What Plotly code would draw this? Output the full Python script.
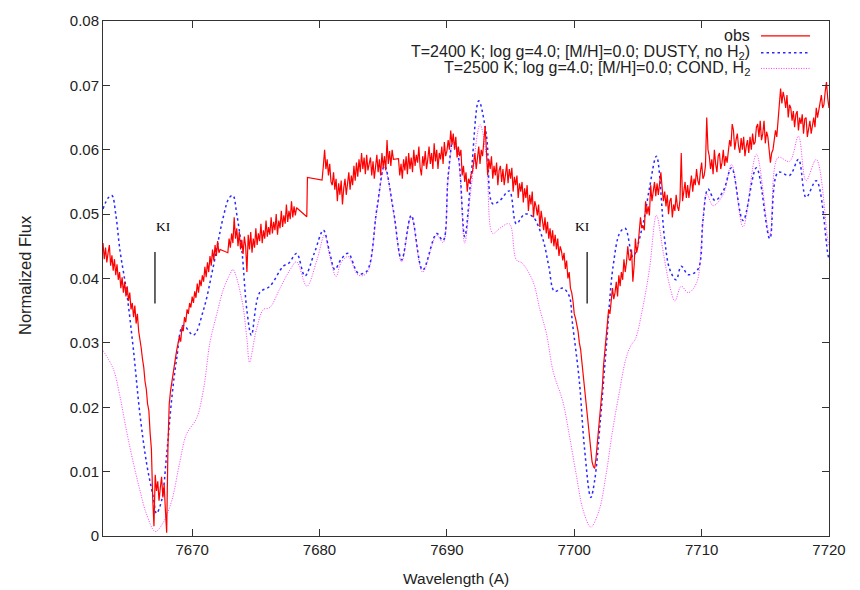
import plotly.graph_objects as go

# ---------------- data ----------------
# observed spectrum: flux in units of 1e-4, on a 0.1 A grid, in segments
# (the gaps between segments are bridged by straight lines, as in the original)
obs_step = 0.1
obs_seg1_start = 7663.0
obs_seg1 = [455, 430, 448, 425, 440, 452, 420, 436, 412, 430,
            405, 422, 398, 410, 385, 402, 378, 395, 372, 388,
            365, 378, 352, 362, 340, 358, 330, 345, 318, 300,
            292, 275, 262, 240, 228, 205, 195, 160, 135, 60,
            15, 95, 70, 85, 55, 75, 92, 60, 80, 40,
            5, 140, 205, 225, 240, 250, 262, 278, 290, 300,
            310, 302, 325, 318, 340, 332, 352, 345, 362, 355,
            372, 362, 380, 370, 392, 378, 398, 388, 405, 395,
            418, 402, 425, 410, 435, 420, 445, 428, 452, 435,
            458, 440, 445]
obs_seg2_start = 7672.8
obs_seg2 = [440, 462,
            448, 470, 455, 495, 462, 478, 450, 472, 445, 460,
            438, 465, 450, 410, 468, 445, 472, 440, 462, 448,
            478, 452, 470, 458, 485, 455, 475, 462, 490, 465,
            480, 468, 495, 470, 488, 475, 500, 468, 490, 478,
            505, 480, 498, 485, 515, 488, 505, 492, 520, 495,
            512, 498, 510]
obs_seg3_wl = [7679.0, 7679.05]
obs_seg3 = [496, 557]
obs_seg4_start = 7680.2
obs_seg4 = [553, 575, 600, 570, 585, 560, 578, 550,
            545, 565, 538, 555, 520, 548, 530, 552, 515, 540,
            555, 530, 548, 565, 538, 560, 545, 575, 552, 580,
            558, 585, 565, 595, 570, 588, 562, 592, 568, 580,
            588, 560, 582, 555, 578, 592, 565, 585, 560, 595,
            572, 590, 568, 615, 578, 598, 575, 600, 585]
obs_seg5_start = 7686.2
obs_seg5 = [586, 560, 578, 555, 585, 568, 590, 562,
            595, 570, 588, 565, 600, 575, 592, 580, 605, 572,
            560, 590, 575, 598, 570, 585, 605, 578, 595, 570,
            610, 582, 600, 570, 595, 585, 605, 578, 612, 590,
            598, 615, 600, 630, 608, 625, 600, 620, 588, 605,
            590, 600, 560, 575, 550, 565, 535, 555, 548, 562,
            565, 580, 595, 570, 585, 605, 578, 600, 590, 610,
            637, 600, 560, 585, 570, 590, 555, 575, 560, 580,
            545, 568, 575, 550, 570, 545, 562, 578, 548, 570,
            555, 572, 535, 558, 545, 560, 525, 548, 535, 550,
            518, 540, 525, 545, 505, 530, 515, 535, 495, 520,
            512, 498, 515, 480, 505, 490, 475, 495, 470, 488,
            462, 478, 455, 475, 450, 468, 445, 462, 435, 450,
            442, 428, 440, 415, 428, 400, 410, 385, 378, 365,
            345, 338, 328, 318, 300, 290, 270, 250, 225, 210,
            190, 172, 150, 135, 115, 108, 105, 120, 140, 160,
            180, 205, 230, 265, 290, 315, 340, 352, 345, 362,
            385, 368, 378, 395, 372, 405, 388, 410, 398, 430,
            410, 425, 450, 430, 428, 445, 395, 420, 462, 440,
            450, 472, 495, 478, 482, 475, 520, 500, 512, 498,
            545, 520, 535, 550, 528, 548, 530, 545, 565, 540,
            520, 535, 512, 530, 500, 520, 525, 495, 515, 505,
            530, 512, 505, 522, 595, 520, 535, 550, 525, 545,
            525, 548, 560, 535, 555, 545, 570, 552, 545, 565,
            580, 555, 560, 575, 650, 600, 590, 570, 585, 562,
            600, 578, 565, 590, 595, 570, 580, 600, 575, 590,
            580, 598, 615, 605, 640, 630, 600, 615, 625, 605,
            595, 618, 600, 620, 590, 605, 615, 595, 620, 600,
            625, 608, 612, 635, 640, 620, 645, 615, 625, 645,
            610, 628, 620, 600, 580, 595, 600, 615, 630, 620,
            650, 665, 695, 672, 690, 680, 665, 685, 650, 670,
            665, 645, 660, 635, 655, 660, 630, 650, 640, 655,
            625, 648, 650, 620, 635, 645, 625, 640, 650, 635,
            665, 650, 660, 675, 685, 665, 670, 690, 705, 680,
            665]

# DUSTY model (T=2400 K)
dusty_wl = [7663.0, 7663.4, 7663.7, 7664.0, 7664.33, 7664.86, 7665.38, 7665.9, 7666.43, 7666.95,
            7667.2, 7667.6, 7668.0, 7668.4, 7668.78, 7669.3, 7670.1, 7670.9, 7671.6, 7672.45,
            7672.9, 7673.2, 7673.5, 7673.9, 7674.3, 7674.65, 7675.3, 7676.1, 7677.15, 7677.6,
            7678.2, 7678.85, 7679.6, 7680.3, 7680.8, 7681.2, 7681.7, 7682.25, 7683.05, 7683.7,
            7684.5, 7685.1, 7685.8, 7686.45, 7687.2, 7688.1, 7689.2, 7689.7, 7690.1, 7690.5,
            7690.9, 7691.4, 7691.9, 7692.5, 7693.1, 7693.6, 7694.15, 7694.9, 7695.45, 7696.1,
            7696.75, 7697.55, 7698.0, 7698.45, 7699.1, 7699.6, 7699.85, 7700.4, 7700.8, 7701.3,
            7701.6, 7702.0, 7702.5, 7703.05, 7703.6, 7704.0, 7704.6, 7705.4, 7705.9, 7706.45,
            7707.1, 7707.5, 7708.0, 7708.4, 7708.95, 7709.7, 7710.1, 7710.5, 7711.05, 7711.7,
            7712.35, 7713.25, 7714.3, 7715.35, 7716.0, 7716.9, 7717.6, 7718.2, 7719.0, 7719.9,
            7720.0]
dusty_flux = [0.0508, 0.0525, 0.0529, 0.0500, 0.0444, 0.0378, 0.0291, 0.0189, 0.0112, 0.0060,
              0.0035, 0.0055, 0.0127, 0.0214, 0.0275, 0.0327, 0.0312, 0.0352, 0.0413, 0.0496,
              0.0525, 0.0529, 0.0500, 0.0444, 0.0350, 0.0312, 0.0378, 0.0388, 0.0419, 0.0424,
              0.0439, 0.0404, 0.0440, 0.0475, 0.0440, 0.0414, 0.0430, 0.0439, 0.0408, 0.0411,
              0.0508, 0.0575, 0.0506, 0.0429, 0.0498, 0.0413, 0.0470, 0.0459, 0.0560, 0.0616,
              0.0590, 0.0465, 0.0560, 0.0676, 0.0623, 0.0516, 0.0521, 0.0536, 0.0485, 0.0500,
              0.0496, 0.0460, 0.0419, 0.0380, 0.0385, 0.0373, 0.0332, 0.0240, 0.0137, 0.0060,
              0.0086, 0.0168, 0.0290, 0.0419, 0.0472, 0.0478, 0.0434, 0.0485, 0.0540, 0.0590,
              0.0460, 0.0414, 0.0398, 0.0419, 0.0406, 0.0414, 0.0490, 0.0539, 0.0521, 0.0536,
              0.0572, 0.0490, 0.0572, 0.0462, 0.0565, 0.0560, 0.0585, 0.0526, 0.0552, 0.0439,
              0.0430]

# COND model (T=2500 K)
cond_wl = [7663.0, 7663.8, 7664.3, 7664.85, 7665.4, 7665.9, 7666.4, 7667.1, 7667.7, 7668.4,
           7669.0, 7669.55, 7670.35, 7670.9, 7671.4, 7671.9, 7672.45, 7673.0, 7673.2, 7673.9,
           7674.3, 7674.5, 7675.05, 7675.6, 7676.1, 7676.9, 7677.7, 7678.2, 7679.0, 7679.8,
           7680.4, 7680.8, 7681.3, 7681.7, 7682.25, 7683.05, 7683.7, 7684.5, 7685.1, 7685.8,
           7686.45, 7687.2, 7688.1, 7689.2, 7689.7, 7690.1, 7690.5, 7690.9, 7691.4, 7691.9,
           7692.6, 7693.1, 7693.6, 7694.15, 7694.9, 7695.45, 7695.9, 7696.75, 7697.3, 7697.8,
           7698.35, 7699.1, 7699.6, 7700.15, 7700.7, 7701.3, 7701.95, 7702.5, 7703.0, 7703.5,
           7704.05, 7704.45, 7704.8, 7705.35, 7705.9, 7706.45, 7707.0, 7707.5, 7707.9, 7708.4,
           7708.95, 7709.6, 7710.0, 7710.4, 7710.9, 7711.7, 7712.35, 7713.25, 7714.3, 7715.35,
           7716.0, 7716.9, 7717.6, 7718.2, 7719.0, 7719.9, 7720.0]
cond_flux = [0.0288, 0.0260, 0.0220, 0.0163, 0.0112, 0.0071, 0.0035, 0.0007, 0.0020, 0.0055,
             0.0112, 0.0158, 0.0183, 0.0229, 0.0301, 0.0342, 0.0383, 0.0408, 0.0414, 0.0367,
             0.0306, 0.0270, 0.0321, 0.0352, 0.0355, 0.0385, 0.0414, 0.0426, 0.0388, 0.0429,
             0.0468, 0.0435, 0.0403, 0.0425, 0.0434, 0.0405, 0.0408, 0.0505, 0.0572, 0.0503,
             0.0426, 0.0495, 0.0410, 0.0467, 0.0456, 0.0555, 0.0612, 0.0585, 0.0455, 0.0540,
             0.0639, 0.0590, 0.0470, 0.0478, 0.0485, 0.0429, 0.0424, 0.0396, 0.0352, 0.0316,
             0.0255, 0.0209, 0.0158, 0.0096, 0.0040, 0.0014, 0.0040, 0.0096, 0.0163, 0.0219,
             0.0275, 0.0296, 0.0306, 0.0352, 0.0414, 0.0498, 0.0439, 0.0388, 0.0365, 0.0388,
             0.0378, 0.0393, 0.0460, 0.0531, 0.0513, 0.0531, 0.0577, 0.0480, 0.0593, 0.0467,
             0.0588, 0.0582, 0.0621, 0.0552, 0.0585, 0.0460, 0.0450]

# K I line markers
ki_line_wl = [7667.08, 7701.01]
ki_text_wl = [7667.72, 7700.68]
ki_line_y = [0.0361, 0.0441]
ki_text_y = 0.0481

x_ticks = [7670, 7680, 7690, 7700, 7710, 7720]
y_ticks = [0, 0.01, 0.02, 0.03, 0.04, 0.05, 0.06, 0.07, 0.08]
y_tick_text = ["0", "0.01", "0.02", "0.03", "0.04", "0.05", "0.06", "0.07", "0.08"]

legend_labels = ["obs",
                 "T=2400 K; log g=4.0; [M/H]=0.0; DUSTY, no H<sub>2</sub>)",
                 "T=2500 K; log g=4.0; [M/H]=0.0; COND, H<sub>2</sub>"]
x_title = "Wavelength (A)"
y_title = "Normalized Flux"

# ---------------- build ----------------
def seg(start, vals):
    return [round(start + obs_step * i, 3) for i in range(len(vals))]

obs_wl = (seg(obs_seg1_start, obs_seg1) + seg(obs_seg2_start, obs_seg2) + obs_seg3_wl
          + seg(obs_seg4_start, obs_seg4) + seg(obs_seg5_start, obs_seg5))
obs_flux = [v * 1e-4 for v in (obs_seg1 + obs_seg2 + obs_seg3 + obs_seg4 + obs_seg5)]

RED = "rgb(255,0,0)"
BLUE = "rgb(40,40,255)"
MAG = "rgb(255,60,255)"
FONT = "Liberation Sans, Arial, sans-serif"
TXT = "#222"

W, H = 860.0, 590.0
L, R, T, B = 103, 31, 15, 54
pw, ph = W - L - R, H - T - B

def px_x(x):
    return (x - L) / pw

def px_y(y):
    return 1 - (y - T) / ph

fig = go.Figure()
fig.add_trace(go.Scatter(x=cond_wl, y=cond_flux, mode="lines", line_shape="spline",
                         line=dict(color=MAG, width=1, dash="1px,1.5px"), showlegend=False))
fig.add_trace(go.Scatter(x=dusty_wl, y=dusty_flux, mode="lines", line_shape="spline",
                         line=dict(color=BLUE, width=1.5, dash="2.5px,3px"), showlegend=False))
fig.add_trace(go.Scatter(x=obs_wl, y=obs_flux, mode="lines",
                         line=dict(color=RED, width=1.2), showlegend=False))

for lw in ki_line_wl:
    fig.add_shape(type="line", x0=lw, x1=lw, y0=ki_line_y[0], y1=ki_line_y[1],
                  xref="x", yref="y", line=dict(color="black", width=1.2))
for tw in ki_text_wl:
    fig.add_annotation(x=tw, y=ki_text_y, text="KI", showarrow=False, xref="x", yref="y",
                       font=dict(family="Liberation Serif, Times New Roman, serif", size=13.5,
                                 color="black"))

# legend (gnuplot style: text right-aligned, sample to the right)
leg_y = [30, 47, 63]
leg_styles = [dict(color=RED, width=1.2),
              dict(color=BLUE, width=1.5, dash="2.5px,3px"),
              dict(color=MAG, width=1, dash="1px,1.5px")]
for lab, yy, st in zip(legend_labels, leg_y, leg_styles):
    fig.add_annotation(x=px_x(752), y=px_y(yy), xref="paper", yref="paper", text=lab,
                       showarrow=False, xanchor="right", yanchor="middle",
                       font=dict(family=FONT, size=16, color=TXT))
    fig.add_shape(type="line", xref="paper", yref="paper",
                  x0=px_x(761), x1=px_x(810), y0=px_y(yy), y1=px_y(yy), line=st)

# axis titles
fig.add_annotation(x=px_x(456), y=px_y(579), xref="paper", yref="paper", text=x_title,
                   showarrow=False, xanchor="center", yanchor="middle",
                   font=dict(family=FONT, size=15.5, color=TXT))
fig.add_annotation(x=px_x(25), y=px_y(272), xref="paper", yref="paper", text=y_title,
                   showarrow=False, xanchor="center", yanchor="middle", textangle=-90,
                   font=dict(family=FONT, size=16.5, color=TXT))

axis_common = dict(showgrid=False, zeroline=False, showline=True, linecolor="#333",
                   linewidth=1, mirror="allticks", ticks="inside", ticklen=7,
                   tickcolor="#333", tickfont=dict(family=FONT, size=15, color=TXT))
fig.update_xaxes(range=[7663, 7720], tickvals=x_ticks, **axis_common)
fig.update_yaxes(range=[0, 0.08], tickvals=y_ticks, ticktext=y_tick_text, **axis_common)
fig.update_layout(width=860, height=590, margin=dict(l=L, r=R, t=T, b=B, pad=0),
                  paper_bgcolor="white", plot_bgcolor="white", showlegend=False)

fig.write_html("out.html")
